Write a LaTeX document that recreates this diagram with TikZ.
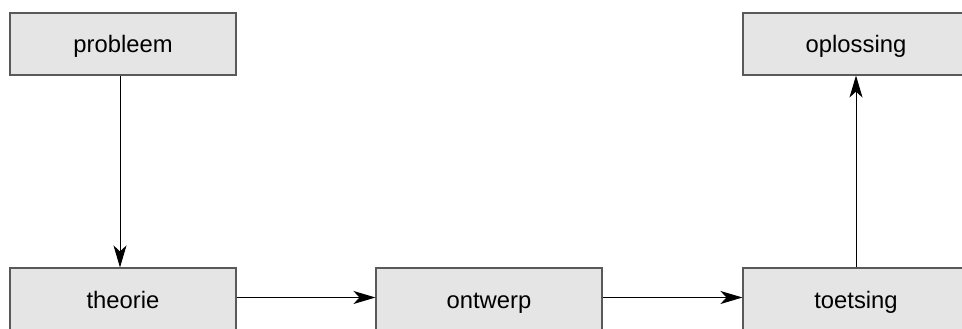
\documentclass[tikz,border=0pt]{standalone}
\usepackage{fontspec}
\setmainfont{Liberation Sans}
\usetikzlibrary{arrows.meta}
\begin{document}
\begin{tikzpicture}[x=1pt,y=-1pt,
  stage/.style={draw=black!65, line width=1.1pt, fill=black!10,
    minimum width=226pt, minimum height=62pt, inner sep=0pt,
    text height=18pt, text depth=0pt,
    font=\fontsize{23.8}{28}\selectfont},
  flow/.style={line width=0.9pt, -{Stealth[length=22pt,width=13pt,inset=6pt]}}]
  \useasboundingbox (0,0) rectangle (962,329);
  \begin{scope}
    \clip (0,0) rectangle (962,329);
    \node[stage] (probleem)  at (123,44)  {probleem};
    \node[stage] (oplossing) at (856,44)  {oplossing};
    \node[stage] (theorie)   at (123,299) {theorie};
    \node[stage] (ontwerp)   at (489,299) {ontwerp};
    \node[stage] (toetsing)  at (856,299) {toetsing};
  \end{scope}
  \draw[flow] ([xshift=-3pt]probleem.south) -- ([xshift=-3pt]theorie.north);
  \draw[flow] ([yshift=1.5pt]theorie.east) -- ([yshift=1.5pt]ontwerp.west);
  \draw[flow] ([yshift=1.5pt]ontwerp.east) -- ([yshift=1.5pt]toetsing.west);
  \draw[flow] (toetsing.north) -- (oplossing.south);
\end{tikzpicture}
\end{document}
